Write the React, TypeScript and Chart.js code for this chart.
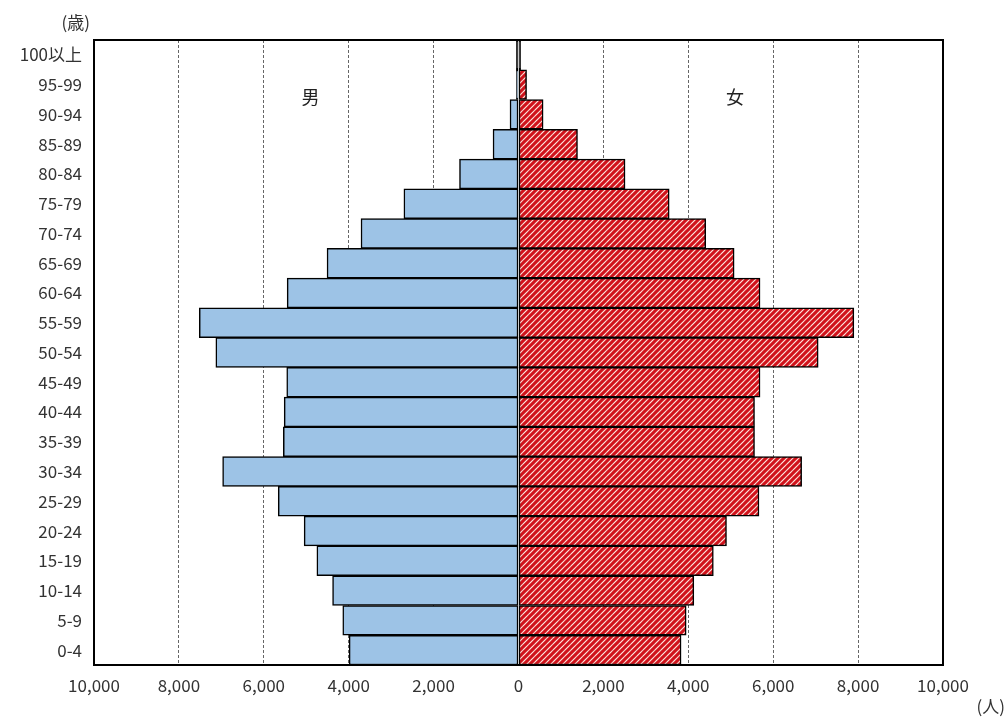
import React, { useEffect, useRef } from "react";
import { Chart, registerables } from "chart.js";

Chart.register(...registerables);

const ageLabels = [
  "100以上", "95-99", "90-94", "85-89", "80-84", "75-79", "70-74", "65-69",
  "60-64", "55-59", "50-54", "45-49", "40-44", "35-39", "30-34", "25-29",
  "20-24", "15-19", "10-14", "5-9", "0-4",
];
const maleValues = [
  -50, -50, -200, -600, -1390, -2700, -3710, -4510, -5450, -7520, -7130,
  -5460, -5520, -5540, -6970, -5660, -5050, -4750, -4380, -4140, -3990,
];
const femaleValues = [
  50, 190, 580, 1390, 2510, 3550, 4410, 5080, 5690, 7900, 7060,
  5690, 5560, 5560, 6670, 5665, 4900, 4590, 4130, 3950, 3830,
];
const xTickValues = [-10000, -8000, -6000, -4000, -2000, 0, 2000, 4000, 6000, 8000, 10000];
const maleLabel = "男";
const femaleLabel = "女";
const yUnit = "(歳)";
const xUnit = "(人)";

const FONT = "'Noto Sans CJK JP', 'Noto Sans', sans-serif";

function makeHatch(): CanvasPattern | string {
  const c = document.createElement("canvas");
  const s = 6;
  c.width = s;
  c.height = s;
  const g = c.getContext("2d");
  if (!g) return "#d7191f";
  g.fillStyle = "#fde8e0";
  g.fillRect(0, 0, s, s);
  g.strokeStyle = "#d0121b";
  g.lineWidth = 3.1;
  g.lineCap = "square";
  for (const off of [-s, 0, s]) {
    g.beginPath();
    g.moveTo(off, s);
    g.lineTo(off + s, 0);
    g.stroke();
  }
  const p = g.createPattern(c, "repeat");
  return p || "#d7191f";
}

export default function App() {
  const ref = useRef<HTMLCanvasElement | null>(null);

  useEffect(() => {
    document.body.style.margin = "0";
    const canvas = ref.current;
    if (!canvas) return;
    const hatch = makeHatch();

    const textPlugin = {
      id: "extraText",
      afterDraw(chart: any) {
        const { ctx, chartArea } = chart;
        const xs = chart.scales.x;
        ctx.save();
        ctx.strokeStyle = "#000";
        ctx.lineWidth = 2;
        ctx.strokeRect(chartArea.left, chartArea.top, chartArea.right - chartArea.left, chartArea.bottom - chartArea.top);
        ctx.fillStyle = "#222";
        ctx.font = `18px ${FONT}`;
        ctx.textAlign = "center";
        ctx.textBaseline = "middle";
        ctx.fillText(maleLabel, xs.getPixelForValue(-4900), chartArea.top + 57);
        ctx.fillText(femaleLabel, xs.getPixelForValue(5100), chartArea.top + 57);
        ctx.fillStyle = "#333";
        ctx.font = `17px ${FONT}`;
        ctx.textAlign = "right";
        ctx.fillText(yUnit, chartArea.left - 4, chartArea.top - 17);
        ctx.fillText(xUnit, chart.width - 3, chartArea.bottom + 42);
        ctx.restore();
      },
    };

    const chart = new Chart(canvas, {
      type: "bar",
      data: {
        labels: ageLabels,
        datasets: [
          {
            label: maleLabel,
            data: maleValues,
            backgroundColor: (c: any) => (c.dataIndex === 0 ? "#000" : "#9dc3e6"),
            borderColor: "#000",
            borderWidth: 1.5,
            borderSkipped: false,
            barPercentage: 1,
            categoryPercentage: 1,
          },
          {
            label: femaleLabel,
            data: femaleValues,
            backgroundColor: (c: any) => (c.dataIndex === 0 ? "#000" : (hatch as any)),
            borderColor: "#000",
            borderWidth: 1.5,
            borderSkipped: false,
            barPercentage: 1,
            categoryPercentage: 1,
          },
        ],
      },
      options: {
        indexAxis: "y",
        responsive: false,
        animation: false,
        devicePixelRatio: 1,
        layout: { padding: { left: 0, right: 65, top: 40, bottom: 0 } },
        plugins: { legend: { display: false }, tooltip: { enabled: false } },
        scales: {
          x: {
            stacked: true,
            min: -10000,
            max: 10000,
            afterFit(scale: any) {
              scale.height = 59;
            },
            afterBuildTicks(scale: any) {
              scale.ticks = xTickValues.map((v) => ({ value: v }));
            },
            ticks: {
              padding: 10,
              color: "#333",
              font: { family: FONT, size: 17 },
              maxRotation: 0,
              callback: (v: any) => Math.abs(Number(v)).toLocaleString("en-US"),
            },
            grid: {
              drawTicks: false,
              lineWidth: 1,
              color: (c: any) => {
                const v = c.tick ? c.tick.value : 0;
                return v === -10000 || v === 0 || v === 10000 ? "rgba(0,0,0,0)" : "#666";
              },
            },
            border: { display: false, dash: [3, 2] },
          },
          y: {
            stacked: true,
            afterFit(scale: any) {
              scale.width = 94;
            },
            ticks: {
              padding: 12,
              color: "#333",
              font: { family: FONT, size: 17 },
            },
            grid: { display: false, drawTicks: false },
            border: { display: false },
          },
        },
      },
      plugins: [textPlugin],
    } as any);

    return () => chart.destroy();
  }, []);

  return (
    <div style={{ position: "absolute", left: 0, top: 0, width: 1008, height: 724 }}>
      <canvas ref={ref} width={1008} height={724} style={{ display: "block", width: 1008, height: 724 }} />
    </div>
  );
}
